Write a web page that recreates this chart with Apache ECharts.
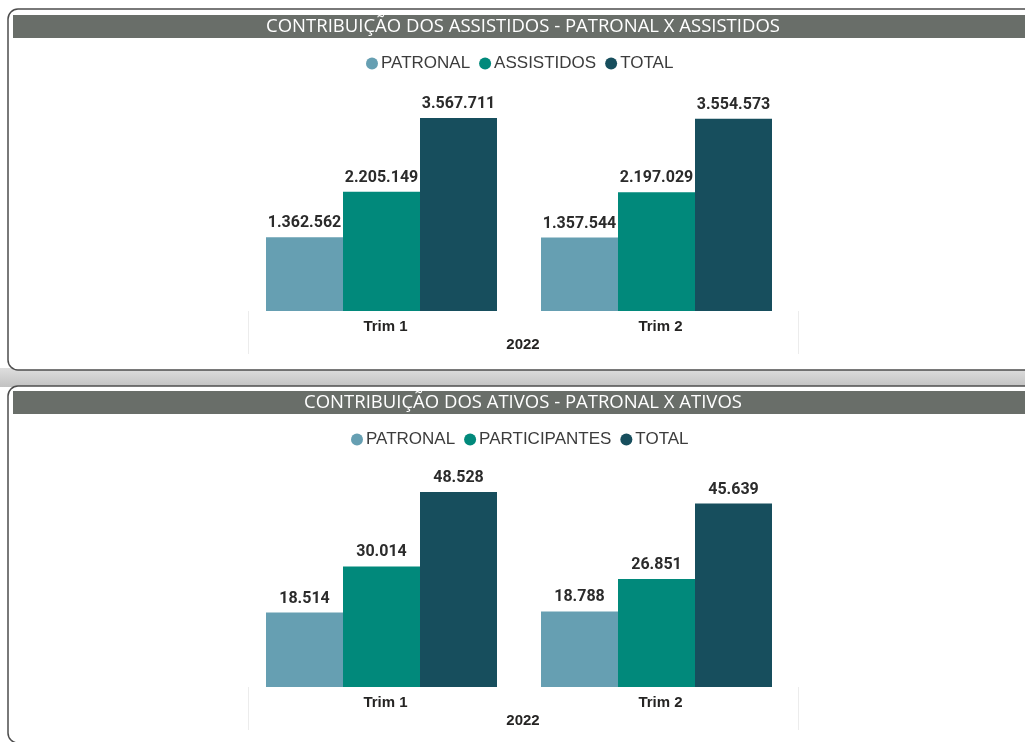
<!DOCTYPE html>
<html>
<head>
<meta charset="utf-8">
<script src="https://cdn.jsdelivr.net/npm/echarts@6/dist/echarts.min.js"></script>
<style>
  html, body { margin: 0; padding: 0; background: #fff; }
  #main { width: 1025px; height: 742px; }
</style>
</head>
<body>
<div id="main"></div>
<script>
// data
var categories = ['Trim 1', 'Trim 2'];
var years = ['2022'];
var assistPatronal = [1362562, 1357544];
var assistAssistidos = [2205149, 2197029];
var assistTotal = [3567711, 3554573];
var ativosPatronal = [18514, 18788];
var ativosParticipantes = [30014, 26851];
var ativosTotal = [48528, 45639];

var titleTop = 'CONTRIBUIÇÃO DOS ASSISTIDOS - PATRONAL X ASSISTIDOS';
var titleBottom = 'CONTRIBUIÇÃO DOS ATIVOS - PATRONAL X ATIVOS';

var cPatronal = '#669fb2';
var cMid = '#01897b';
var cTotal = '#174e5d';

function fmt (v) {
  return String(v).replace(/\B(?=(\d{3})+(?!\d))/g, '.');
}

var chart = echarts.init(document.getElementById('main'));

var labelStyle = {
  show: true,
  position: 'top',
  distance: 6,
  fontFamily: 'Roboto',
  fontWeight: 'bold',
  fontSize: 16,
  color: '#2b2b2b',
  formatter: function (p) { return fmt(p.value); }
};

// bars of panel idx live on grid idx*2 (xAxis idx*3, yAxis idx*2)
function bar (name, data, color, idx) {
  return {
    name: name,
    type: 'bar',
    xAxisIndex: idx * 3,
    yAxisIndex: idx * 2,
    data: data,
    barGap: '0%',
    barCategoryGap: '16%',
    itemStyle: { color: color },
    label: labelStyle
  };
}

var axisFont = { fontFamily: 'Liberation Sans', fontWeight: 'bold', fontSize: 15, color: '#252423' };

function barAxis (gridIndex) {
  return {
    type: 'category',
    gridIndex: gridIndex,
    data: categories,
    axisLine: { show: false },
    axisTick: { show: false },
    axisLabel: { show: false }
  };
}

function catAxis (gridIndex) {
  return {
    type: 'category',
    gridIndex: gridIndex,
    data: categories,
    axisLine: { show: false },
    axisTick: { show: false },
    axisLabel: Object.assign({ margin: 8 }, axisFont)
  };
}

function yearAxis (gridIndex) {
  return {
    type: 'category',
    gridIndex: gridIndex,
    data: years,
    position: 'bottom',
    axisLine: { show: false },
    axisTick: { show: true, length: 43, lineStyle: { color: '#ececec', width: 1 } },
    axisLabel: Object.assign({ margin: 26 }, axisFont)
  };
}

function valAxis (gridIndex, max) {
  return { type: 'value', gridIndex: gridIndex, min: 0, max: max, show: false, splitLine: { show: false } };
}

var legendText = { fontFamily: 'Liberation Sans', fontSize: 17, color: '#3c3c3c', padding: [0, 0, 0, -2] };

var panelStroke = '#4d4d4d';
var titleFont = '18.5px "Open Sans"';

chart.setOption({
  animation: false,
  graphic: [
    { type: 'rect', z: -10, shape: { x: 0, y: 368, width: 1025, height: 19 },
      style: { fill: new echarts.graphic.LinearGradient(0, 0, 0, 1, [
        { offset: 0, color: '#dedede' }, { offset: 1, color: '#c2c2c2' }]) } },
    { type: 'rect', z: -9, shape: { x: 8, y: 9, width: 1060, height: 361, r: 10 },
      style: { fill: '#fff', stroke: panelStroke, lineWidth: 1.5 } },
    { type: 'rect', z: -9, shape: { x: 8, y: 386, width: 1060, height: 357, r: 10 },
      style: { fill: '#fff', stroke: panelStroke, lineWidth: 1.5 } },
    { type: 'rect', z: -8, shape: { x: 13, y: 15, width: 1020, height: 23 },
      style: { fill: '#696e69' } },
    { type: 'rect', z: -8, shape: { x: 13, y: 391, width: 1020, height: 23 },
      style: { fill: '#696e69' } },
    { type: 'text', x: 523, y: 27, z: -7,
      style: { text: titleTop, fill: '#fff', font: titleFont, align: 'center', verticalAlign: 'middle' } },
    { type: 'text', x: 523, y: 403, z: -7,
      style: { text: titleBottom, fill: '#fff', font: titleFont, align: 'center', verticalAlign: 'middle' } }
  ],
  legend: [
    { left: 361, top: 50, icon: 'circle', itemWidth: 12, itemHeight: 12, itemGap: 9,
      data: ['PATRONAL', 'ASSISTIDOS', 'TOTAL'], textStyle: legendText, selectedMode: false },
    { left: 346, top: 426, icon: 'circle', itemWidth: 12, itemHeight: 12, itemGap: 9,
      data: ['PATRONAL', 'PARTICIPANTES', 'TOTAL'], textStyle: legendText, selectedMode: false }
  ],
  grid: [
    { left: 244, width: 550, top: 100, height: 211 },
    { left: 248, width: 550, top: 100, height: 211 },
    { left: 244, width: 550, top: 474, height: 213 },
    { left: 248, width: 550, top: 474, height: 213 }
  ],
  xAxis: [barAxis(0), catAxis(1), yearAxis(1), barAxis(2), catAxis(3), yearAxis(3)],
  yAxis: [valAxis(0, 3900000), valAxis(1, 3900000), valAxis(2, 53000), valAxis(3, 53000)],
  series: [
    bar('PATRONAL', assistPatronal, cPatronal, 0),
    bar('ASSISTIDOS', assistAssistidos, cMid, 0),
    bar('TOTAL', assistTotal, cTotal, 0),
    bar('PATRONAL', ativosPatronal, cPatronal, 1),
    bar('PARTICIPANTES', ativosParticipantes, cMid, 1),
    bar('TOTAL', ativosTotal, cTotal, 1)
  ]
});
</script>
</body>
</html>
